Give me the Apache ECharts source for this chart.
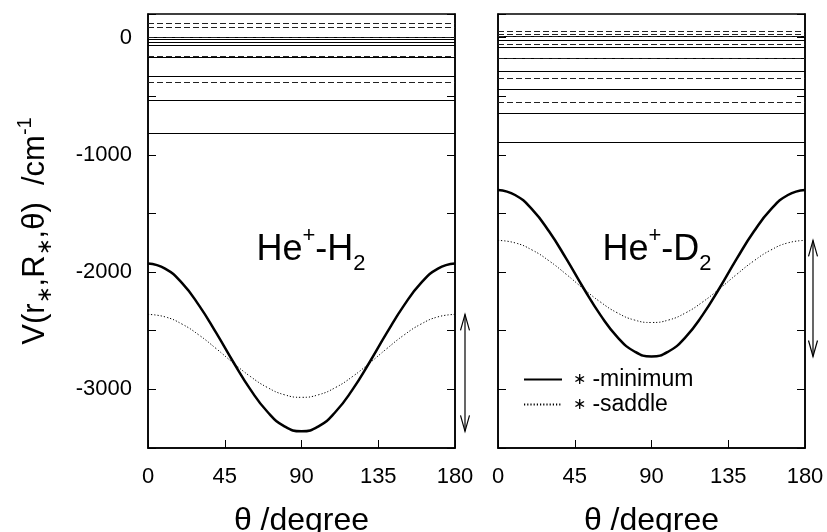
<!DOCTYPE html>
<html>
<head>
<meta charset="utf-8">
<script src="https://cdn.jsdelivr.net/npm/echarts@6/dist/echarts.min.js"></script>
<style>
  html, body { margin: 0; padding: 0; background: #fff; }
  #chart { width: 827px; height: 532px; }
</style>
</head>
<body>
<div id="chart"></div>
<script>
// Angle grid (degrees)
const theta = [0, 10, 20, 30, 40, 50, 60, 70, 80, 90, 100, 110, 120, 130, 140, 150, 160, 170, 180];

// He+-H2: potential along the minimum and saddle paths (cm^-1)
const h2Minimum = [-1928, -1971, -2095, -2286, -2519, -2767, -3000, -3191, -3315, -3358,
                   -3315, -3191, -3000, -2767, -2519, -2286, -2095, -1971, -1928];
const h2Saddle  = [-2361, -2382, -2444, -2538, -2653, -2775, -2890, -2984, -3046, -3068,
                   -3046, -2984, -2890, -2775, -2653, -2538, -2444, -2382, -2361];

// He+-D2
const d2Minimum = [-1300, -1343, -1466, -1655, -1886, -2134, -2365, -2554, -2677, -2720,
                   -2677, -2554, -2365, -2134, -1886, -1655, -1466, -1343, -1300];
const d2Saddle  = [-1730, -1751, -1812, -1905, -2019, -2141, -2255, -2348, -2409, -2430,
                   -2409, -2348, -2255, -2141, -2019, -1905, -1812, -1751, -1730];

// Energy levels (cm^-1)
const h2SolidLevels  = [0, -18, -40, -68, -170, -329, -536, -815];
const h2DashedLevels = [118, 84, 3, -160, -383];
const d2SolidLevels  = [10, -25, -85, -181, -292, -445, -645, -892];
const d2DashedLevels = [52, 24, 10, -55, -181, -348, -556];

// Axis ranges and ticks
const thetaTicks = [0, 45, 90, 135, 180];
const energyRange = [-3500, 200];
const energyStep = 500;
const energyLabelStep = 1000;

const FONT = '"Liberation Sans", Arial, sans-serif';
const BLACK = '#000';

function pairs(xs, ys) { return xs.map((x, i) => [x, ys[i]]); }

function levelLines(solid, dashed) {
  const data = [];
  solid.forEach(v => data.push({ yAxis: v, lineStyle: { type: 'solid', width: 1.1, color: BLACK } }));
  dashed.forEach(v => data.push({ yAxis: v, lineStyle: { type: [6, 3], width: 1.1, color: '#222' } }));
  return { silent: true, symbol: 'none', label: { show: false }, animation: false, emphasis: { disabled: true }, data };
}

function xAxisFor(grid) {
  return {
    gridIndex: grid, type: 'value',
    min: thetaTicks[0], max: thetaTicks[thetaTicks.length - 1],
    interval: thetaTicks[1] - thetaTicks[0],
    axisLine: { show: true, onZero: false, lineStyle: { color: BLACK, width: 1.5 } },
    axisTick: { show: true, inside: true, length: 8, lineStyle: { color: BLACK, width: 1 } },
    axisLabel: { color: BLACK, fontSize: 22, fontFamily: FONT, margin: 18 },
    splitLine: { show: false },
    name: 'θ /degree', nameLocation: 'middle', nameGap: 57,
    nameTextStyle: { color: BLACK, fontSize: 32, fontFamily: FONT }
  };
}

function yAxisFor(grid, side, withLabels) {
  const ax = {
    gridIndex: grid, type: 'value', position: side,
    min: energyRange[0], max: energyRange[1], interval: energyStep,
    axisLine: { show: true, onZero: false, lineStyle: { color: BLACK, width: 1.5 } },
    axisTick: { show: true, inside: true, length: 8, lineStyle: { color: BLACK, width: 1 } },
    axisLabel: {
      show: withLabels, color: BLACK, fontSize: 22, fontFamily: FONT, margin: 16,
      formatter: v => (v % energyLabelStep === 0 ? String(v) : '')
    },
    splitLine: { show: false }
  };
  if (withLabels) {
    ax.name = 'V(r{sub|∗},R{sub|∗},θ)  /cm{sup|-1}';
    ax.nameLocation = 'middle';
    ax.nameRotate = 90;
    ax.nameGap = 93;
    ax.nameTextStyle = {
      color: BLACK, fontSize: 31, fontFamily: FONT, lineHeight: 40,
      rich: {
        sub: { fontSize: 20, fontFamily: FONT, color: BLACK, verticalAlign: 'bottom', lineHeight: 40 },
        sup: { fontSize: 20, fontFamily: FONT, color: BLACK, verticalAlign: 'top', lineHeight: 40 }
      }
    };
  }
  return ax;
}

// Double-headed vertical arrow drawn just right of the panel
function arrowRenderer(offset) {
  return function (params, api) {
    const p1 = api.coord([api.value(0), api.value(1)]);
    const p2 = api.coord([api.value(0), api.value(2)]);
    const x = p1[0] + offset, y1 = p1[1], y2 = p2[1];
    const hl = 16, hw = 4.5;
    const st = { stroke: BLACK, fill: null, lineWidth: 1.2 };
    return {
      type: 'group',
      children: [
        { type: 'line', shape: { x1: x, y1: y1, x2: x, y2: y2 }, style: st },
        { type: 'polyline', shape: { points: [[x - hw, y1 + hl], [x, y1], [x + hw, y1 + hl]] }, style: st },
        { type: 'polyline', shape: { points: [[x - hw, y2 - hl], [x, y2], [x + hw, y2 - hl]] }, style: st }
      ]
    };
  };
}

const NAME_MIN = '∗ -minimum';
const NAME_SAD = '∗ -saddle';

function curveSeries(name, xi, yi, data, dotted, marks) {
  const s = {
    name, type: 'line', xAxisIndex: xi, yAxisIndex: yi,
    data, smooth: true, symbol: 'none', showSymbol: false,
    lineStyle: dotted ? { color: BLACK, width: 1, type: [1.2, 2] } : { color: BLACK, width: 2.5 },
    itemStyle: { color: BLACK },
    emphasis: { disabled: true }, animation: false, z: 3
  };
  if (marks) s.markLine = marks;
  return s;
}

const gridBase = { top: 14, width: 307, height: 434, show: true, borderColor: BLACK, borderWidth: 1.5,
                   backgroundColor: 'transparent', containLabel: false, outerBoundsMode: 'none' };

const chart = echarts.init(document.getElementById('chart'), null, { renderer: 'canvas' });
chart.setOption({
  backgroundColor: '#fff',
  animation: false,
  grid: [
    Object.assign({ left: 148 }, gridBase),
    Object.assign({ left: 498 }, gridBase)
  ],
  xAxis: [xAxisFor(0), xAxisFor(1)],
  yAxis: [yAxisFor(0, 'left', true), yAxisFor(0, 'right', false), yAxisFor(1, 'left', false), yAxisFor(1, 'right', false)],
  legend: {
    data: [NAME_MIN, NAME_SAD], orient: 'vertical', left: 518, top: 363,
    itemWidth: 38, itemHeight: 14, itemGap: 2, selectedMode: false,
    itemStyle: { opacity: 0 },
    formatter: name => '{star|∗} ' + name.replace('∗ ', ''),
    textStyle: {
      color: BLACK, fontSize: 23, fontFamily: FONT, padding: [0, 0, 0, 6],
      rich: { star: { fontSize: 16, fontFamily: FONT, color: BLACK } }
    }
  },
  graphic: [
    { type: 'text', x: 311, y: 250, silent: true,
      style: { text: 'He{sup|+}-H{sub|2}', fill: BLACK, fontSize: 36, fontFamily: FONT, align: 'center', verticalAlign: 'middle', lineHeight: 50,
        rich: { sup: { fontSize: 22, fontFamily: FONT, fill: BLACK, verticalAlign: 'top', lineHeight: 50 },
                sub: { fontSize: 22, fontFamily: FONT, fill: BLACK, verticalAlign: 'bottom', lineHeight: 50 } } } },
    { type: 'text', x: 657, y: 250, silent: true,
      style: { text: 'He{sup|+}-D{sub|2}', fill: BLACK, fontSize: 36, fontFamily: FONT, align: 'center', verticalAlign: 'middle', lineHeight: 50,
        rich: { sup: { fontSize: 22, fontFamily: FONT, fill: BLACK, verticalAlign: 'top', lineHeight: 50 },
                sub: { fontSize: 22, fontFamily: FONT, fill: BLACK, verticalAlign: 'bottom', lineHeight: 50 } } } }
  ],
  series: [
    curveSeries(NAME_MIN, 0, 0, pairs(theta, h2Minimum), false, levelLines(h2SolidLevels, h2DashedLevels)),
    curveSeries(NAME_SAD, 0, 0, pairs(theta, h2Saddle), true),
    curveSeries(NAME_MIN, 1, 2, pairs(theta, d2Minimum), false, levelLines(d2SolidLevels, d2DashedLevels)),
    curveSeries(NAME_SAD, 1, 2, pairs(theta, d2Saddle), true),
    { type: 'custom', xAxisIndex: 0, yAxisIndex: 0, clip: false, silent: true, animation: false,
      renderItem: arrowRenderer(10), encode: { x: 0, y: [1, 2] },
      data: [[thetaTicks[thetaTicks.length - 1], h2Saddle[0], h2Minimum[9]]] },
    { type: 'custom', xAxisIndex: 1, yAxisIndex: 2, clip: false, silent: true, animation: false,
      renderItem: arrowRenderer(8), encode: { x: 0, y: [1, 2] },
      data: [[thetaTicks[thetaTicks.length - 1], d2Saddle[0], d2Minimum[9]]] }
  ]
});
</script>
</body>
</html>
